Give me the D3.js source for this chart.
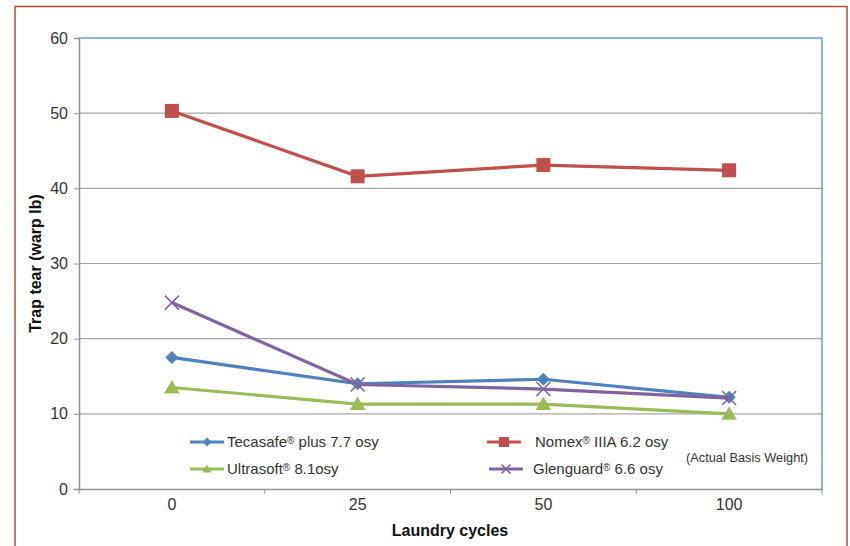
<!DOCTYPE html>
<html>
<head>
<meta charset="UTF-8">
<script src="https://d3js.org/d3.v7.min.js"></script>
<style>
  body { margin: 0; background: #fff; }
  svg text { font-family: "Liberation Sans", Arial, sans-serif; fill: #333; }
  svg text.axis-title { font-weight: bold; font-size: 16px; fill: #111; }
</style>
</head>
<body>
<script>
const cycles = ['0', '25', '50', '100'];
const yTicks = [0, 10, 20, 30, 40, 50, 60];

const tecasafe = [17.5, 14.0, 14.6, 12.2];
const nomex = [50.3, 41.6, 43.1, 42.4];
const ultrasoft = [13.5, 11.3, 11.3, 10.0];
const glenguard = [24.8, 13.9, 13.3, 12.1];

const seriesLabels = [
  ['Tecasafe', ' plus 7.7 osy'],
  ['Nomex', ' IIIA 6.2 osy'],
  ['Ultrasoft', ' 8.1osy'],
  ['Glenguard', ' 6.6 osy']
];

const series = [
  { values: tecasafe, color: '#4f81bd', marker: 'diamond' },
  { values: nomex, color: '#c0504d', marker: 'square' },
  { values: ultrasoft, color: '#9bbb59', marker: 'triangle' },
  { values: glenguard, color: '#8064a2', marker: 'cross' }
];

const plot = { left: 79, right: 822, top: 38, bottom: 489 };

const svg = d3.select('body').append('svg')
  .attr('width', 850)
  .attr('height', 546);

// outer frame
svg.append('rect')
  .attr('x', 15).attr('y', 6.5)
  .attr('width', 832).attr('height', 560)
  .attr('fill', 'none')
  .attr('stroke', '#b0503c')
  .attr('stroke-width', 1.5);

const x = d3.scaleBand().domain(cycles).range([plot.left, plot.right]);
const y = d3.scaleLinear().domain([0, 60]).range([plot.bottom, plot.top]);

// gridlines
svg.append('g').selectAll('line')
  .data(yTicks.filter(d => d > 0 && d < 60))
  .enter().append('line')
  .attr('x1', plot.left).attr('x2', plot.right)
  .attr('y1', d => y(d)).attr('y2', d => y(d))
  .attr('stroke', '#a6a6a6').attr('stroke-width', 1.2);

// plot border top/right (blue)
svg.append('path')
  .attr('d', `M${plot.left},${plot.top}H${plot.right}V${plot.bottom}`)
  .attr('fill', 'none')
  .attr('stroke', '#6a9fd4')
  .attr('stroke-width', 1.5);

// y axis
const yAxis = svg.append('g')
  .attr('transform', `translate(${plot.left},0)`)
  .call(d3.axisLeft(y).tickValues(yTicks).tickSize(5).tickPadding(6));
yAxis.select('.domain').attr('stroke', '#8c9196').attr('stroke-width', 1.5);
yAxis.selectAll('.tick line').attr('stroke', '#8c9196');
yAxis.selectAll('text').style('font-size', '16px').attr('fill', '#333');

// x axis
const xAxis = svg.append('g')
  .attr('transform', `translate(0,${plot.bottom})`)
  .call(d3.axisBottom(x).tickSize(0).tickPadding(10));
xAxis.select('.domain').attr('stroke', '#8c9196').attr('stroke-width', 1.5);
xAxis.selectAll('text').style('font-size', '16px').attr('fill', '#333');
const bounds = cycles.map(c => x(c)).concat([plot.right]);
xAxis.selectAll('.bound')
  .data(bounds)
  .enter().append('line')
  .attr('x1', d => d).attr('x2', d => d)
  .attr('y1', 0).attr('y2', 5)
  .attr('stroke', '#8c9196');

// axis titles
svg.append('text')
  .attr('class', 'axis-title')
  .attr('transform', `translate(41,${(plot.top + plot.bottom) / 2}) rotate(-90)`)
  .attr('text-anchor', 'middle')
  .text('Trap tear (warp lb)');
svg.append('text')
  .attr('class', 'axis-title')
  .attr('x', 450).attr('y', 536)
  .attr('text-anchor', 'middle')
  .text('Laundry cycles');

function drawMarker(g, type, color, size) {
  if (type === 'diamond') {
    g.append('path').attr('d', `M0,${-size}L${size},0L0,${size}L${-size},0Z`).attr('fill', color);
  } else if (type === 'square') {
    g.append('rect').attr('x', -size).attr('y', -size)
      .attr('width', size * 2).attr('height', size * 2).attr('fill', color);
  } else if (type === 'triangle') {
    g.append('path').attr('d', `M0,${-size}L${size * 1.05},${size * 0.8}L${-size * 1.05},${size * 0.8}Z`).attr('fill', color);
  } else {
    g.append('path').attr('d', `M${-size},${-size}L${size},${size}M${size},${-size}L${-size},${size}`)
      .attr('stroke', color).attr('stroke-width', 1.6).attr('fill', 'none');
  }
}

const line = d3.line()
  .x((d, i) => x(cycles[i]) + x.bandwidth() / 2)
  .y(d => y(d));

const markerSize = { diamond: 6.5, square: 7, triangle: 7.5, cross: 7 };

// draw order: Ultrasoft, Tecasafe, Glenguard, Nomex
[2, 0, 3, 1].forEach(si => {
  const s = series[si];
  svg.append('path')
    .attr('d', line(s.values))
    .attr('fill', 'none')
    .attr('stroke', s.color)
    .attr('stroke-width', 3.2);
  s.values.forEach((v, i) => {
    const g = svg.append('g')
      .attr('transform', `translate(${x(cycles[i]) + x.bandwidth() / 2},${y(v)})`);
    drawMarker(g, s.marker, s.color, markerSize[s.marker]);
  });
});

// legend
const legendPos = [
  { x: 190, y: 442, tx: 227 },
  { x: 487, y: 442, tx: 535 },
  { x: 190, y: 469, tx: 227 },
  { x: 489, y: 469, tx: 533 }
];
series.forEach((s, i) => {
  const p = legendPos[i];
  const g = svg.append('g').attr('transform', `translate(${p.x},${p.y})`);
  g.append('line').attr('x1', 0).attr('x2', 34).attr('y1', 0).attr('y2', 0)
    .attr('stroke', s.color).attr('stroke-width', 3.2);
  const m = g.append('g').attr('transform', 'translate(17,0)');
  drawMarker(m, s.marker, s.color, s.marker === 'square' ? 5 : 4.5);
  const t = svg.append('text')
    .attr('x', p.tx).attr('y', p.y + 5)
    .style('font-size', '15px');
  t.append('tspan').text(seriesLabels[i][0]);
  t.append('tspan').attr('baseline-shift', '35%').style('font-size', '10px').text('®');
  t.append('tspan').text(seriesLabels[i][1]);
});

svg.append('text')
  .attr('x', 686).attr('y', 462)
  .style('font-size', '12.8px')
  .attr('fill', '#444')
  .text('(Actual Basis Weight)');
</script>
</body>
</html>
